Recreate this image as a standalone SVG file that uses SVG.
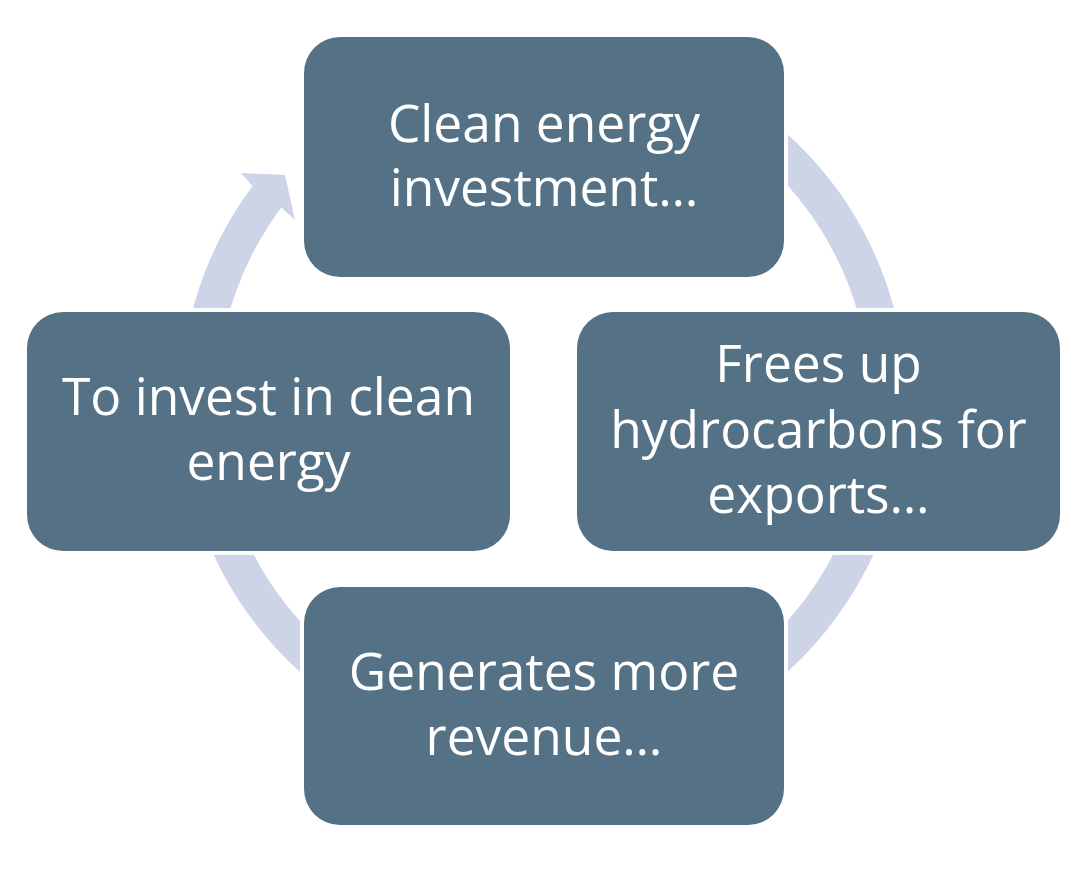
<svg xmlns="http://www.w3.org/2000/svg" width="1092" height="870" viewBox="0 0 1092 870">
  <style>
    .box { fill: #557185; stroke: #ffffff; stroke-width: 8; paint-order: stroke; }
    .lbl { font-family: "Open Sans", "Noto Sans", sans-serif; font-size: 51.5px; fill: #ffffff; text-anchor: middle; }
    .ring { fill: none; stroke: #CED4E8; stroke-width: 36; }
    .head { fill: #CED4E8; }
  </style>
  <rect width="1092" height="870" fill="#ffffff"/>
  <g id="connectors">
    <path class="ring" d="M269.8,193 A345,345 0 1 0 513.4,59.3"/>
    <polygon class="head" points="252.4,186.1 241,173 285,175 295,220 281.3,207.6"/>
  </g>
  <g id="node-top">
    <rect class="box" x="304" y="37" width="480" height="240" rx="36" ry="36"/>
    <text class="lbl" x="544" y="142">Clean energy</text>
    <text class="lbl" x="544" y="206">investment…</text>
  </g>
  <g id="node-right">
    <rect class="box" x="577" y="312" width="483" height="239" rx="36" ry="36"/>
    <text class="lbl" x="818.5" y="382">Frees up</text>
    <text class="lbl" x="818.5" y="448">hydrocarbons for</text>
    <text class="lbl" x="818.5" y="513">exports…</text>
  </g>
  <g id="node-bottom">
    <rect class="box" x="304" y="587" width="480" height="238" rx="36" ry="36"/>
    <text class="lbl" x="544" y="690">Generates more</text>
    <text class="lbl" x="544" y="755">revenue…</text>
  </g>
  <g id="node-left">
    <rect class="box" x="27" y="312" width="483" height="239" rx="36" ry="36"/>
    <text class="lbl" x="268.5" y="415">To invest in clean</text>
    <text class="lbl" x="268.5" y="480">energy</text>
  </g>
</svg>
